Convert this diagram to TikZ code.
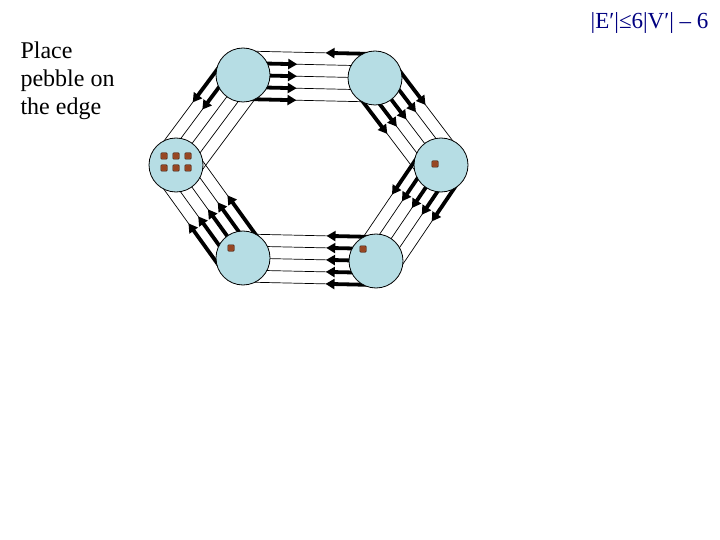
\documentclass[tikz,border=0pt]{standalone}
\usepackage{fontspec}
\setmainfont{Liberation Serif}
\usetikzlibrary{calc,arrows.meta}
\definecolor{bcol}{RGB}{182,221,228}
\definecolor{pcol}{RGB}{150,70,35}
\definecolor{tcol}{RGB}{0,0,128}
\pgfdeclarelayer{back}
\pgfsetlayers{back,main}
\tikzset{site/.style={circle,draw,line width=0.8pt,fill=bcol,minimum size=54pt,inner sep=0pt}}
\tikzset{wire/.style={line width=0.7pt}}
\tikzset{peb/.style={line width=3.8pt,-{Triangle[length=9pt,width=10pt]}}}
\tikzset{chip/.style={draw=black!60!pcol,fill=pcol,rounded corners=1pt,minimum size=6.5pt,inner sep=0pt}}

\begin{document}
\begin{tikzpicture}[x=1pt,y=-1pt]
\useasboundingbox (0,0) rectangle (720,540);

\node [site] (v1) at (243,75) {};
\node [site] (v2) at (375,78) {};
\node [site] (v3) at (441,165) {};
\node [site] (v4) at (376,261) {};
\node [site] (v5) at (243,258) {};
\node [site] (v6) at (176,165) {};

\begin{pgfonlayer}{back}
\foreach \s/\t in {v1/v2,v2/v3,v3/v4,v4/v5,v5/v6,v6/v1}
  \foreach \d in {-24pt,-12pt,0pt,12pt,24pt}
    \draw [wire] ($(\s)!\d!90:(\t)$) -- ($(\t)!\d!-90:(\s)$);

% pebbles put on the edges
\foreach \s/\t/\l/\d in {v2/v1/50pt/-24pt,
    v1/v2/54pt/12pt,v1/v2/54pt/0pt,v1/v2/54pt/-12pt,v1/v2/54pt/-24pt,
    v1/v6/52pt/-24pt,v1/v6/52pt/-12pt,
    v2/v3/52pt/-24pt,v2/v3/52pt/-12pt,v2/v3/52pt/0pt,v2/v3/52pt/12pt,v2/v3/52pt/24pt,
    v3/v4/52pt/-24pt,v3/v4/52pt/-12pt,v3/v4/52pt/0pt,v3/v4/52pt/12pt,v3/v4/52pt/24pt,
    v4/v5/50pt/-24pt,v4/v5/50pt/-12pt,v4/v5/50pt/0pt,v4/v5/50pt/12pt,v4/v5/50pt/24pt,
    v5/v6/60pt/-24pt,v5/v6/60pt/-12pt,v5/v6/60pt/0pt,v5/v6/60pt/12pt,v5/v6/60pt/24pt}
{
  \coordinate (m) at ($(\s)!\l!(\t)$);
  \draw [peb] ($(\s)!\d!90:(\t)$) -- ($(m)!\d!90:(\t)$);
}
\end{pgfonlayer}

% pebbles left on the vertices
\foreach \i/\dx/\dy in {1/-12/-9,2/0/-9,3/12/-9,4/-12/3,5/0/3,6/12/3}
  \node [chip] (w\i) at ($(v6)+(\dx,\dy)$) {};
\node [chip] (c1) at ($(v3)+(-6,-1)$) {};
\node [chip] (c2) at ($(v4)+(-13,-12)$) {};
\node [chip] (c3) at ($(v5)+(-12,-10)$) {};

\node [anchor=base west,align=left,font=\fontsize{24}{28}\selectfont] (note) at (17,115) {Place\\pebble on\\the edge};
\node [anchor=base east,text=tcol,font=\fontsize{23}{27}\selectfont] (bound) at (712,29) {|E′|≤6|V′| – 6};
\end{tikzpicture}
\end{document}
